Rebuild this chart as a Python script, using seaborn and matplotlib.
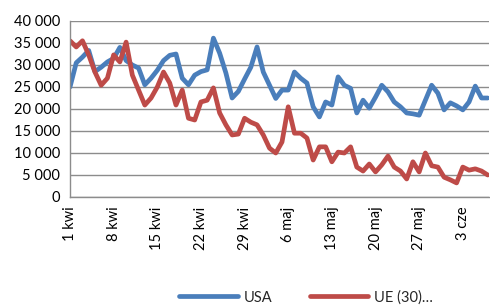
import numpy as np
import pandas as pd
import matplotlib
matplotlib.use("Agg")
import matplotlib.pyplot as plt
import seaborn as sns
from matplotlib.ticker import FuncFormatter, FixedLocator
from matplotlib.lines import Line2D

# day index 0 = 1 kwi ... 67 = 7 cze
usa = [25000, 30500, 31800, 33300, 28500, 29500, 30700, 31500, 34000, 31000,
       30000, 29300, 25500, 27000, 28800, 31000, 32200, 32500, 27000, 25500,
       27700, 28500, 28900, 36100, 32700, 28200, 22500, 24000, 26800, 29500,
       34100, 28400, 25400, 22400, 24300, 24300, 28400, 27000, 25900, 20500,
       18200, 21600, 20900, 27300, 25400, 24700, 19100, 22000, 20200, 22700,
       25400, 23900, 21600, 20500, 19100, 18900, 18600, 22000, 25400, 23600,
       19800, 21400, 20700, 19800, 21600, 25200, 22500, 22500]
ue = [35500, 34100, 35500, 32300, 28400, 25400, 27000, 32300, 30700, 35200,
      27700, 24300, 20900, 22500, 25000, 28400, 25900, 20900, 24300, 17900,
      17500, 21600, 22000, 24800, 19100, 16400, 14100, 14300, 17900, 17000,
      16400, 14100, 11100, 10000, 12500, 20500, 14500, 14500, 13400, 8400,
      11400, 11400, 8000, 10200, 10000, 11400, 6800, 5900, 7500, 5700,
      7300, 9300, 6800, 5900, 4100, 8000, 5700, 10000, 7100, 6800,
      4500, 3900, 3200, 6800, 6100, 6400, 5900, 5000]
series_names = ["USA", "UE (30)…"]
tick_days = [0, 7, 14, 21, 28, 35, 42, 49, 56, 63]
tick_labels = ["1 kwi", "8 kwi", "15 kwi", "22 kwi", "29 kwi", "6 maj",
               "13 maj", "20 maj", "27 maj", "3 cze"]
y_ticks = [0, 5000, 10000, 15000, 20000, 25000, 30000, 35000, 40000]

days = np.arange(len(usa))
df = pd.DataFrame({
    "day": np.concatenate([days, days]),
    "value": usa + ue,
    "series": [series_names[0]] * len(usa) + [series_names[1]] * len(ue),
})

sns.set_style("white")
plt.rcParams["font.family"] = ["Lato", "DejaVu Sans"]

fig = plt.figure(figsize=(4.9, 3.05), dpi=100)
ax = fig.add_axes([70 / 490, 1 - 197 / 305, 419 / 490, 176 / 305])

sns.lineplot(data=df, x="day", y="value", hue="series",
             palette=["#4A7EBB", "#BE4B48"], linewidth=3.4, ax=ax,
             legend=False, solid_capstyle="round", solid_joinstyle="round")

ax.set_xlim(0, 67.2)
ax.set_ylim(0, 40000)
ax.yaxis.set_major_locator(FixedLocator(y_ticks))
ax.yaxis.set_major_formatter(FuncFormatter(lambda v, p: f"{int(v):,}".replace(",", " ")))
ax.set_xticks(tick_days)
ax.set_xticklabels(tick_labels, rotation=90)
ax.set_xlabel("")
ax.set_ylabel("")
ax.grid(axis="y", color="#8c8c8c", linewidth=1.0)
ax.set_axisbelow(True)
for s in ["top", "right"]:
    ax.spines[s].set_visible(False)
for s in ["left", "bottom"]:
    ax.spines[s].set_color("#8c8c8c")
    ax.spines[s].set_linewidth(1.0)
ax.tick_params(axis="both", which="major", length=4, width=1.0, color="#8c8c8c",
               labelsize=10.5, labelcolor="#000000", direction="out", pad=3)

handles = [Line2D([0], [0], color="#4A7EBB", lw=3.4, solid_capstyle="round"),
           Line2D([0], [0], color="#BE4B48", lw=3.4, solid_capstyle="round")]
fig.legend(handles, series_names, loc="center", bbox_to_anchor=(0.625, 0.025),
           ncol=2, frameon=False, fontsize=10.5, handlelength=4.0,
           handletextpad=0.4, columnspacing=2.6)

fig.savefig("out.png", dpi=100)
